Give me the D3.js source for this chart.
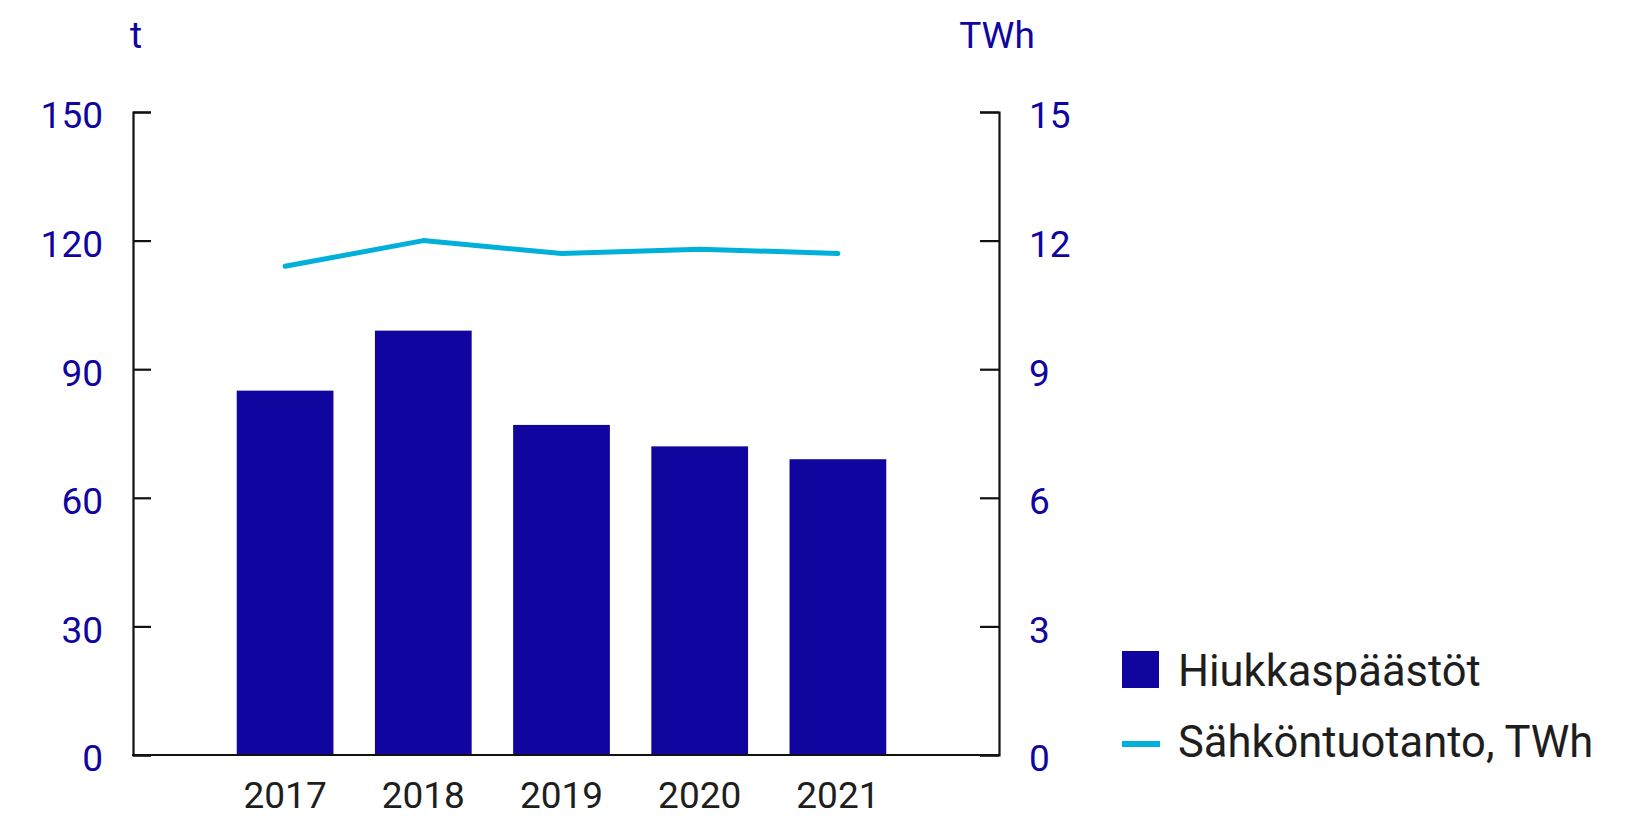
<!DOCTYPE html>
<html>
<head>
<meta charset="utf-8">
<script src="https://cdn.jsdelivr.net/npm/d3@7"></script>
<style>
  html, body { margin: 0; padding: 0; background: #fff; }
  svg { display: block; font-family: Roboto, "Noto Sans", sans-serif; }
</style>
</head>
<body>
<svg id="chart" width="1640" height="816"></svg>
<script>
// Vuodet, hiukkaspäästöt (t) ja sähköntuotanto (TWh)
const years = ["2017", "2018", "2019", "2020", "2021"];
const emissions = [85, 99, 77, 72, 69];
const production = [11.4, 12.0, 11.7, 11.8, 11.7];
const leftTicks = [0, 30, 60, 90, 120, 150];
const rightTicks = [0, 3, 6, 9, 12, 15];
const legendLabels = ["Hiukkaspäästöt", "Sähköntuotanto, TWh"];

const BAR = "#10069F";
const LINE = "#00B0D8";
const INK = "#1e1e1e";
const FS = 37;
const LEGEND_FS = 43.5;

const svg = d3.select("#chart");

const plot = { left: 133, right: 999, top: 112, bottom: 755 };

const x = d3.scaleBand()
  .domain(years)
  .range([216, 907])
  .paddingInner(0.3)
  .paddingOuter(0.15);

const yL = d3.scaleLinear().domain([0, 150]).range([plot.bottom, plot.top]);
const yR = d3.scaleLinear().domain([0, 15]).range([plot.bottom, plot.top]);

// Pylväät
svg.append("g").selectAll("rect")
  .data(emissions)
  .join("rect")
  .attr("x", (d, i) => x(years[i]))
  .attr("y", d => yL(d))
  .attr("width", x.bandwidth())
  .attr("height", d => yL(0) - yL(d))
  .attr("fill", BAR);

// Viiva
const line = d3.line()
  .x((d, i) => x(years[i]) + x.bandwidth() / 2)
  .y(d => yR(d));

svg.append("path")
  .datum(production)
  .attr("d", line)
  .attr("fill", "none")
  .attr("stroke", LINE)
  .attr("stroke-width", 5)
  .attr("stroke-linecap", "round")
  .attr("stroke-linejoin", "round");

// Akselit
const axisL = d3.axisLeft(yL).tickValues(leftTicks).tickSize(-18).tickPadding(30).tickFormat(d3.format("d"));
const gL = svg.append("g").attr("transform", `translate(${plot.left},0)`).call(axisL);

const axisR = d3.axisRight(yR).tickValues(rightTicks).tickSize(-19).tickPadding(30).tickFormat(d3.format("d"));
const gR = svg.append("g").attr("transform", `translate(${plot.right},0)`).call(axisR);

[gL, gR].forEach(g => {
  g.select(".domain").attr("stroke", "#111").attr("stroke-width", 2.2);
  g.selectAll(".tick line").attr("stroke", "#111").attr("stroke-width", 2.2);
  g.selectAll(".tick text")
    .attr("fill", BAR)
    .attr("font-size", FS)
    .attr("font-family", "Roboto, sans-serif")
    .attr("dy", "0.43em");
});
gR.selectAll(".tick text").attr("x", 30);

const axisB = d3.axisBottom(x).tickSize(0).tickPadding(0);
const gB = svg.append("g").attr("transform", `translate(0,${plot.bottom})`).call(axisB);
gB.select(".domain").remove();
gB.append("line")
  .attr("x1", plot.left - 1).attr("x2", plot.right + 1)
  .attr("y1", 0).attr("y2", 0)
  .attr("stroke", "#111").attr("stroke-width", 2.2);
gB.selectAll(".tick text")
  .attr("fill", INK)
  .attr("font-size", FS)
  .attr("font-family", "Roboto, sans-serif")
  .attr("y", 53)
  .attr("dy", 0);

// Yksiköt
svg.append("text").attr("x", 130).attr("y", 48)
  .attr("fill", BAR).attr("font-size", FS).text("t");
svg.append("text").attr("x", 997).attr("y", 48)
  .attr("text-anchor", "middle")
  .attr("fill", BAR).attr("font-size", FS).text("TWh");

// Selite
const lg = svg.append("g").attr("transform", "translate(1122,0)");
lg.append("rect").attr("x", 0).attr("y", 651).attr("width", 37).attr("height", 37).attr("fill", BAR);
lg.append("line").attr("x1", 0).attr("x2", 38).attr("y1", 744).attr("y2", 744)
  .attr("stroke", LINE).attr("stroke-width", 6);
lg.selectAll("text.lbl")
  .data(legendLabels)
  .join("text")
  .attr("class", "lbl")
  .attr("x", 56)
  .attr("y", (d, i) => [686, 757][i])
  .attr("fill", INK)
  .attr("font-size", LEGEND_FS)
  .text(d => d);
</script>
</body>
</html>
